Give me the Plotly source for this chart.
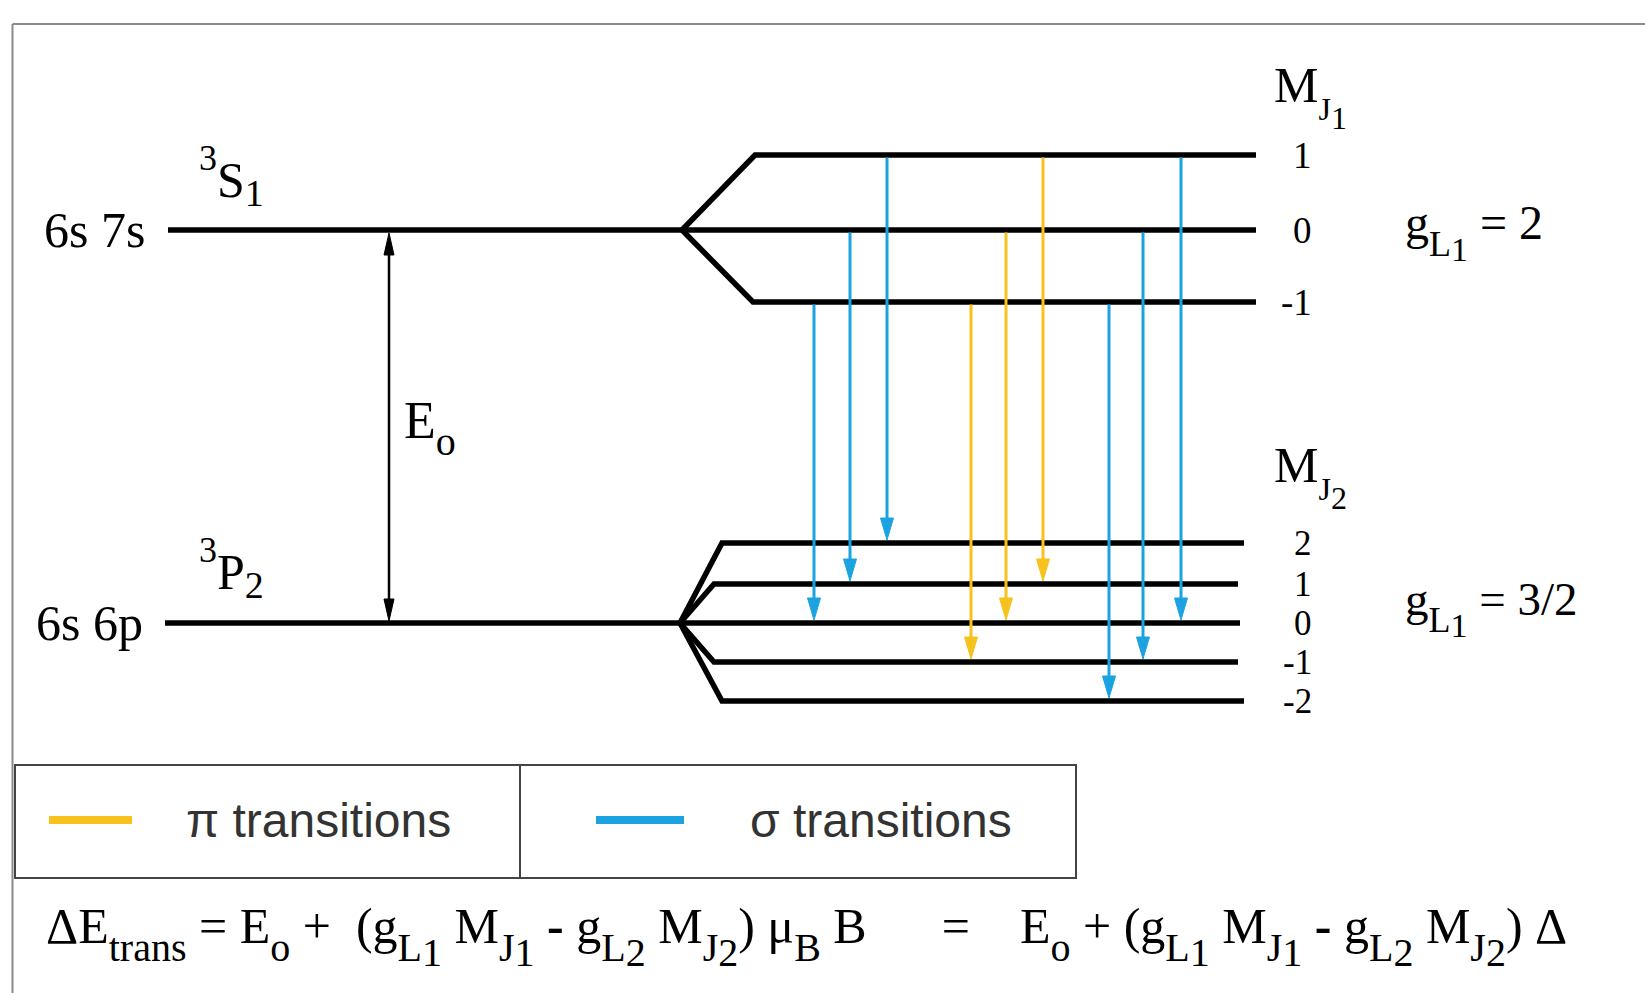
import plotly.graph_objects as go

# ---------------- data ----------------
config_labels = ["6s 7s", "6s 6p"]
term_letters = ["S", "P"]
term_mult = ["3", "3"]
term_J = ["1", "2"]
level_y = [230, 623]                     # unperturbed level positions (vertical energy scale)

upper_M = [1, 0, -1]
upper_sub_y = [155, 230, 302]
lower_M = [2, 1, 0, -1, -2]
lower_sub_y = [543, 584, 623, 662, 701]

trans_M1 = [-1, 0, 1, -1, 0, 1, -1, 0, 1]
trans_M2 = [0, 1, 2, -1, 0, 1, -2, -1, 0]
trans_type = ["sigma", "sigma", "sigma", "pi", "pi", "pi", "sigma", "sigma", "sigma"]
trans_x = [814, 850, 887, 971, 1006, 1043, 1109, 1143, 1181]

g_values = ["2", "3/2"]
legend_labels = ["\u03c0 transitions", "\u03c3 transitions"]

# ---------------- style ----------------
W, H = 1645, 993
BLUE = "#1aa3e0"
YELLOW = "#f7c21d"
COL = {"sigma": BLUE, "pi": YELLOW}
SERIF = "Liberation Serif, Times New Roman, serif"
SANS = "Liberation Sans, Arial, sans-serif"


def sp(t, size):
    return '<span style="font-size:%dpx">%s</span>' % (round(size), t)


def sub(t, size, shift):
    # subscript of given size, lowered by `shift` px
    return sp("<sub>" + sp(t, size) + "</sub>", shift / 0.21)


def sup(t, size, shift):
    return sp("<sup>" + sp(t, size) + "</sup>", shift / 0.42)


def sub2(a, b, size_a, size_b, shift_a, shift_b):
    inner = sp(a, size_a) + sp("<sub>" + sp(b, size_b) + "</sub>", shift_b / 0.21)
    return sp("<sub>" + inner + "</sub>", shift_a / 0.21)


left_x0 = [168, 165]
split_x = [682, 680]
upper_bend_x = [755, 682, 753]
upper_end_x = [1256, 1256, 1256]
lower_bend_x = [722, 714, 680, 714, 722]
lower_end_x = [1244, 1238, 1240, 1238, 1244]

fig = go.Figure()

# level lines
xs, ys = [], []
for i in range(2):
    xs += [left_x0[i], split_x[i], None]
    ys += [level_y[i], level_y[i], None]
for m, y, bx, ex in zip(upper_M, upper_sub_y, upper_bend_x, upper_end_x):
    xs += [split_x[0], bx, ex, None]
    ys += [level_y[0], y, y, None]
for m, y, bx, ex in zip(lower_M, lower_sub_y, lower_bend_x, lower_end_x):
    xs += [split_x[1], bx, ex, None]
    ys += [level_y[1], y, y, None]
fig.add_trace(go.Scatter(x=xs, y=ys, mode="lines",
                         line=dict(color="black", width=5.5), hoverinfo="skip"))

# transitions
head_len, head_hw = 22, 6.5
for m1, m2, t, x in zip(trans_M1, trans_M2, trans_type, trans_x):
    y0 = upper_sub_y[upper_M.index(m1)] + 2.5
    y1 = lower_sub_y[lower_M.index(m2)] - 3
    c = COL[t]
    fig.add_trace(go.Scatter(x=[x, x], y=[y0, y1 - head_len + 2], mode="lines",
                             line=dict(color=c, width=3), hoverinfo="skip"))
    fig.add_trace(go.Scatter(x=[x - head_hw, x + head_hw, x, x - head_hw],
                             y=[y1 - head_len, y1 - head_len, y1, y1 - head_len],
                             mode="lines", fill="toself", fillcolor=c,
                             line=dict(color=c, width=1), hoverinfo="skip"))

# E0 double arrow
ex = 389
ey0, ey1 = level_y[0] + 3, level_y[1] - 2
hl, hw = 22, 5
fig.add_trace(go.Scatter(x=[ex, ex], y=[ey0 + hl - 2, ey1 - hl + 2], mode="lines",
                         line=dict(color="black", width=2.5), hoverinfo="skip"))
for tip, d in [(ey0, 1), (ey1, -1)]:
    fig.add_trace(go.Scatter(x=[ex - hw, ex + hw, ex, ex - hw],
                             y=[tip + d * hl, tip + d * hl, tip, tip + d * hl],
                             mode="lines", fill="toself", fillcolor="black",
                             line=dict(color="black", width=1), hoverinfo="skip"))

# legend swatches
sw_x = [(49, 132), (596, 684)]
for (a, b), t in zip(sw_x, ["pi", "sigma"]):
    fig.add_trace(go.Scatter(x=[a, b], y=[820, 820], mode="lines",
                             line=dict(color=COL[t], width=8), hoverinfo="skip"))

ann = []


def txt(x, y, s, size, font=SERIF, xa="left", ya="middle", color="black"):
    ann.append(dict(x=x, y=y, text=s, showarrow=False, xanchor=xa, yanchor=ya,
                    font=dict(family=font, size=size, color=color)))


txt(147, level_y[0], config_labels[0], 50, xa="right")
txt(145, level_y[1], config_labels[1], 50, xa="right")
for i, yy in enumerate([176, 568]):
    s = sup(term_mult[i], 36, 27) + term_letters[i] + sub(term_J[i], 38, 9)
    txt(197, yy, s, 50)
txt(402, 428, "E" + sub("o", 40, 17), 52)
for i, yy in enumerate([96, 476]):
    txt(1272, yy, "M" + sub2("J", str(i + 1), 32, 32, 18, 9), 50)
for m, y in zip(upper_M, upper_sub_y):
    txt(1314, y, str(m), 37, xa="right")
for m, y in zip(lower_M, lower_sub_y):
    txt(1314, y, str(m), 35, xa="right")
for yy, gv in zip([232, 608], g_values):
    txt(1403, yy, "g" + sub2("L", "1", 36, 34, 17, 5), 48 if gv == "2" else 47)
    ann[-1]["text"] += " = " + gv
txt(184, 820, legend_labels[0], 48, font=SANS, color="#333333")
txt(748, 820, legend_labels[1], 48, font=SANS, color="#333333")

gL1 = "g" + sub2("L", "1", 40, 40, 18, 5)
gL2 = "g" + sub2("L", "2", 40, 40, 18, 5)
MJ1 = "M" + sub2("J", "1", 40, 40, 18, 5)
MJ2 = "M" + sub2("J", "2", 40, 40, 18, 5)
Eo = "E" + sub("o", 40, 18)
NB = "\u00a0"
formula = ("\u0394E" + sub("trans", 40, 18) + " = " + Eo + " + " + NB + "(" + gL1 + " " + MJ1 +
           " <b>-</b> " + gL2 + " " + MJ2 + ")" + " \u03bc" + sub("B", 40, 18) + " B" +
           NB * 6 + "=" + NB * 4 + Eo + " + (" + gL1 + " " + MJ1 + " <b>-</b> " + gL2 + " " +
           MJ2 + ") \u0394")
txt(44, 936, formula, 50)

shapes = [
    dict(type="line", x0=12.5, x1=W, y0=24, y1=24, line=dict(color="#8a8a8a", width=2)),
    dict(type="line", x0=12.5, x1=12.5, y0=24, y1=H, line=dict(color="#8a8a8a", width=2)),
    dict(type="rect", x0=15, x1=1076, y0=765, y1=878, line=dict(color="#444444", width=2)),
    dict(type="line", x0=520, x1=520, y0=765, y1=878, line=dict(color="#444444", width=2)),
]

fig.update_layout(
    width=W, height=H, margin=dict(l=0, r=0, t=0, b=0),
    paper_bgcolor="white", plot_bgcolor="white", showlegend=False,
    xaxis=dict(range=[0, W], visible=False, fixedrange=True),
    yaxis=dict(range=[H, 0], visible=False, fixedrange=True),
    annotations=ann, shapes=shapes,
)
fig.write_html("out.html", config={"displayModeBar": False})
